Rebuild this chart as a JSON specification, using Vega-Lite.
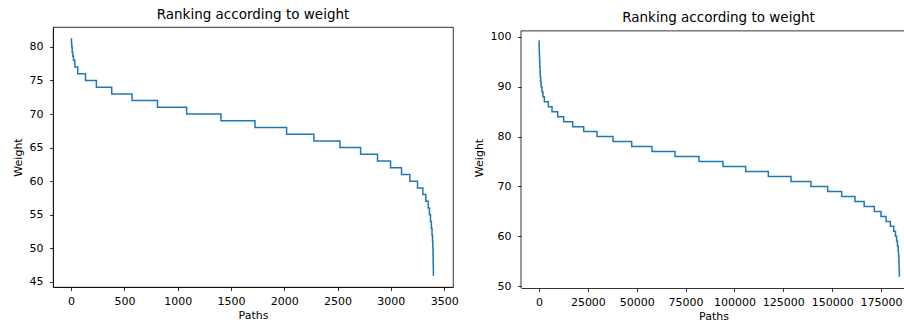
{
  "$schema": "https://vega.github.io/schema/vega-lite/v6.json",
  "padding": {"left": 11, "top": 7, "right": 0, "bottom": 0},
  "background": "white",
  "spacing": 14,
  "config": {
    "font": "DejaVu Sans",
    "view": {"stroke": "#000000", "strokeWidth": 0.8},
    "axis": {
      "domainColor": "#000000", "domainWidth": 0.8,
      "tickColor": "#000000", "tickWidth": 0.8, "tickSize": 3.5,
      "labelFontSize": 11, "labelColor": "#000000",
      "titleFontSize": 11, "titleFontWeight": "normal", "titleColor": "#000000",
      "grid": false
    },
    "axisY": {"titlePadding": 6, "labelPadding": 6.5},
    "axisX": {"titlePadding": 3, "labelPadding": 5},
    "title": {"fontSize": 13.5, "fontWeight": "normal", "color": "#000000", "offset": 6}
  },
  "datasets": {
    "small": [
      {"Paths": 0, "Weight": 81.2},
      {"Paths": 3, "Weight": 80.5},
      {"Paths": 6, "Weight": 80},
      {"Paths": 10, "Weight": 79.2},
      {"Paths": 16, "Weight": 78.6},
      {"Paths": 22, "Weight": 78},
      {"Paths": 35, "Weight": 77},
      {"Paths": 62, "Weight": 76},
      {"Paths": 135, "Weight": 75},
      {"Paths": 237, "Weight": 74},
      {"Paths": 381, "Weight": 73},
      {"Paths": 572, "Weight": 72},
      {"Paths": 810, "Weight": 71},
      {"Paths": 1084, "Weight": 70},
      {"Paths": 1406, "Weight": 69},
      {"Paths": 1725, "Weight": 68},
      {"Paths": 2022, "Weight": 67},
      {"Paths": 2278, "Weight": 66},
      {"Paths": 2522, "Weight": 65},
      {"Paths": 2716, "Weight": 64},
      {"Paths": 2875, "Weight": 63},
      {"Paths": 2997, "Weight": 62},
      {"Paths": 3100, "Weight": 61},
      {"Paths": 3178, "Weight": 60},
      {"Paths": 3250, "Weight": 59},
      {"Paths": 3300, "Weight": 58},
      {"Paths": 3328, "Weight": 57},
      {"Paths": 3350, "Weight": 56},
      {"Paths": 3362, "Weight": 55},
      {"Paths": 3372, "Weight": 54},
      {"Paths": 3380, "Weight": 53},
      {"Paths": 3386, "Weight": 52},
      {"Paths": 3391, "Weight": 51},
      {"Paths": 3394, "Weight": 50},
      {"Paths": 3396, "Weight": 49},
      {"Paths": 3397, "Weight": 48},
      {"Paths": 3398, "Weight": 47},
      {"Paths": 3399, "Weight": 46},
      {"Paths": 3401, "Weight": 46}
    ],
    "large": [
      {"Paths": 0, "Weight": 99.2},
      {"Paths": 60, "Weight": 98},
      {"Paths": 120, "Weight": 97},
      {"Paths": 200, "Weight": 96},
      {"Paths": 300, "Weight": 95},
      {"Paths": 400, "Weight": 94},
      {"Paths": 500, "Weight": 93},
      {"Paths": 620, "Weight": 92},
      {"Paths": 800, "Weight": 91},
      {"Paths": 1050, "Weight": 90},
      {"Paths": 1500, "Weight": 89},
      {"Paths": 2000, "Weight": 88},
      {"Paths": 2729, "Weight": 87},
      {"Paths": 4776, "Weight": 86},
      {"Paths": 6652, "Weight": 85},
      {"Paths": 9551, "Weight": 84},
      {"Paths": 12620, "Weight": 83},
      {"Paths": 17227, "Weight": 82},
      {"Paths": 22855, "Weight": 81},
      {"Paths": 29677, "Weight": 80},
      {"Paths": 37865, "Weight": 79},
      {"Paths": 47416, "Weight": 78},
      {"Paths": 57820, "Weight": 77},
      {"Paths": 69589, "Weight": 76},
      {"Paths": 81870, "Weight": 75},
      {"Paths": 94150, "Weight": 74},
      {"Paths": 105748, "Weight": 73},
      {"Paths": 117346, "Weight": 72},
      {"Paths": 128944, "Weight": 71},
      {"Paths": 139178, "Weight": 70},
      {"Paths": 147706, "Weight": 69},
      {"Paths": 154870, "Weight": 68},
      {"Paths": 161692, "Weight": 67},
      {"Paths": 166400, "Weight": 66},
      {"Paths": 171600, "Weight": 65},
      {"Paths": 175000, "Weight": 64},
      {"Paths": 177600, "Weight": 63},
      {"Paths": 179800, "Weight": 62},
      {"Paths": 181500, "Weight": 61},
      {"Paths": 182400, "Weight": 60},
      {"Paths": 183000, "Weight": 59},
      {"Paths": 183450, "Weight": 58},
      {"Paths": 183800, "Weight": 57},
      {"Paths": 184000, "Weight": 56},
      {"Paths": 184150, "Weight": 55},
      {"Paths": 184250, "Weight": 54},
      {"Paths": 184330, "Weight": 53},
      {"Paths": 184400, "Weight": 52},
      {"Paths": 184500, "Weight": 52}
    ],
    "frame": [
      {"Paths": -9225, "Weight": 49.64, "WeightTop": 101.2}
    ]
  },
  "hconcat": [
    {
      "title": "Ranking according to weight",
      "width": 400,
      "height": 260,
      "data": {"name": "small"},
      "mark": {"type": "line", "interpolate": "step-after", "color": "#1f77b4", "strokeWidth": 1.5},
      "encoding": {
        "x": {"field": "Paths", "type": "quantitative", "scale": {"domain": [-170, 3583], "nice": false, "zero": false},
              "axis": {"values": [0, 500, 1000, 1500, 2000, 2500, 3000, 3500], "title": "Paths", "format": "d"}},
        "y": {"field": "Weight", "type": "quantitative", "scale": {"domain": [44.24, 82.96], "nice": false, "zero": false},
              "axis": {"values": [45, 50, 55, 60, 65, 70, 75, 80], "title": "Weight"}}
      }
    },
    {
      "title": {"text": "Ranking according to weight", "offset": 3, "dx": 5},
      "width": 385,
      "height": 261,
      "view": {"stroke": null},
      "layer": [
        {
          "data": {"name": "large"},
          "mark": {"type": "line", "interpolate": "step-after", "color": "#1f77b4", "strokeWidth": 1.5},
          "encoding": {
            "x": {"field": "Paths", "type": "quantitative", "scale": {"domain": [-9225, 187800], "nice": false, "zero": false},
                  "axis": {"values": [0, 25000, 50000, 75000, 100000, 125000, 150000, 175000], "title": "Paths", "format": "d"}},
            "y": {"field": "Weight", "type": "quantitative", "scale": {"domain": [49.64, 101.98], "nice": false, "zero": false},
                  "axis": {"values": [50, 60, 70, 80, 90, 100], "title": "Weight", "domain": false}}
          }
        },
        {
          "data": {"name": "frame"},
          "mark": {"type": "rule", "color": "#000000", "strokeWidth": 0.8},
          "encoding": {"y": {"field": "WeightTop", "type": "quantitative"}}
        },
        {
          "data": {"name": "frame"},
          "mark": {"type": "rule", "color": "#000000", "strokeWidth": 0.8},
          "encoding": {
            "x": {"field": "Paths", "type": "quantitative"},
            "y": {"field": "Weight", "type": "quantitative"},
            "y2": {"field": "WeightTop"}
          }
        }
      ]
    }
  ]
}
